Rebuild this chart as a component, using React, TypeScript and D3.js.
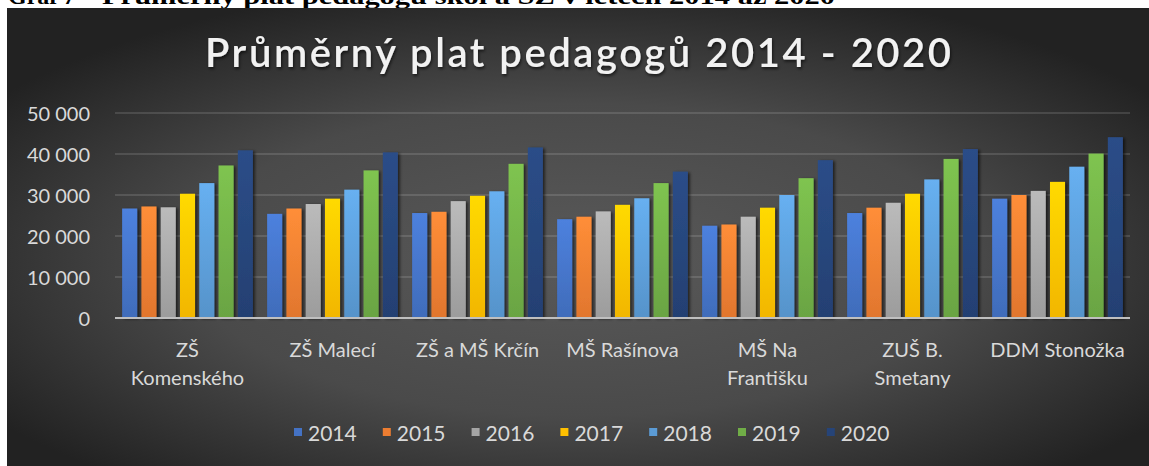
import React from "react";
import * as d3 from "d3";

const categories = [
  "ZŠ Komenského",
  "ZŠ Malecí",
  "ZŠ a MŠ Krčín",
  "MŠ Rašínova",
  "MŠ Na Františku",
  "ZUŠ B. Smetany",
  "DDM Stonožka",
];
// how Excel wrapped the axis labels
const categoryLines = [
  ["ZŠ", "Komenského"],
  ["ZŠ Malecí"],
  ["ZŠ a MŠ Krčín"],
  ["MŠ Rašínova"],
  ["MŠ Na", "Františku"],
  ["ZUŠ B.", "Smetany"],
  ["DDM Stonožka"],
];

const years = ["2014", "2015", "2016", "2017", "2018", "2019", "2020"];
const v2014 = [26700, 25400, 25600, 24100, 22500, 25600, 29100];
const v2015 = [27200, 26700, 25900, 24700, 22800, 26900, 30000];
const v2016 = [27000, 27800, 28500, 26000, 24700, 28100, 31000];
const v2017 = [30300, 29100, 29800, 27600, 26900, 30300, 33200];
const v2018 = [32900, 31300, 30900, 29200, 30000, 33800, 36900];
const v2019 = [37200, 36000, 37600, 32900, 34100, 38800, 40100];
const v2020 = [40900, 40400, 41600, 35700, 38500, 41200, 44100];
const seriesValues = [v2014, v2015, v2016, v2017, v2018, v2019, v2020];
const colors = ["#4472C4", "#ED7D31", "#A5A5A5", "#FFC000", "#5B9BD5", "#70AD47", "#264478"];

const yTicks = [0, 10000, 20000, 30000, 40000, 50000];

const caption = "Graf 7 – Průměrný plat pedagogů škol a ŠZ v letech 2014 až 2020";
const title = "Průměrný plat pedagogů 2014 - 2020";

const W = 1149;
const H = 466;
const font = "Lato, 'Open Sans', sans-serif";

const czFormat = d3.formatLocale({
  decimal: ",",
  thousands: "\u00a0",
  grouping: [3],
  currency: ["", " Kč"],
}).format(",d");

export default function App() {
  const x0 = d3.scaleBand().domain(categories).range([115, 1130]).padding(0);
  const x1 = d3
    .scaleBand()
    .domain(years)
    .range([0, x0.bandwidth()])
    .paddingInner(0.22)
    .paddingOuter(0.37);
  const y = d3.scaleLinear().domain([0, 50000]).range([318, 113]);

  const legend = d3.scaleBand().domain(years).range([294, 294 + 7 * 88.8]);

  const [capHead, ...capRest] = caption.split(" – ");

  return (
    <svg
      width={W}
      height={H}
      style={{ position: "absolute", left: 0, top: 0, background: "#fff" }}
    >
      <defs>
        <radialGradient id="bg" cx="50%" cy="55%" r="62%">
          <stop offset="0%" stopColor="#595959" />
          <stop offset="55%" stopColor="#4a4a4a" />
          <stop offset="100%" stopColor="#222222" />
        </radialGradient>
        {colors.map((c, i) => (
          <linearGradient key={i} id={`bar${i}`} x1="0" y1="0" x2="0" y2="1">
            <stop offset="0%" stopColor={d3.color(c)!.brighter(0.35).formatHex()} />
            <stop offset="100%" stopColor={d3.color(c)!.darker(0.15).formatHex()} />
          </linearGradient>
        ))}
        <filter id="shadow" x="-30%" y="-10%" width="160%" height="120%">
          <feDropShadow dx="2" dy="1" stdDeviation="1.5" floodColor="#000" floodOpacity="0.6" />
        </filter>
        <filter id="tshadow" x="-5%" y="-30%" width="110%" height="160%">
          <feDropShadow dx="1" dy="2" stdDeviation="1.5" floodColor="#000" floodOpacity="0.6" />
        </filter>
      </defs>

      {/* document caption, mostly hidden behind the chart */}
      <text
        x={8}
        y={4}
        fontFamily="'Liberation Serif', serif"
        fontWeight="bold"
        fontSize={24}
        fill="#000"
      >
        {capHead + " –"}
      </text>
      <text
        x={102}
        y={4}
        fontFamily="'Liberation Serif', serif"
        fontWeight="bold"
        fontSize={24}
        fill="#000"
        textLength={733}
        lengthAdjust="spacingAndGlyphs"
      >
        {capRest.join(" – ")}
      </text>

      <rect x={7} y={8} width={W - 7} height={H - 8} fill="url(#bg)" />

      <text
        x={578}
        y={67}
        textAnchor="middle"
        fontFamily={font}
        fontSize={40}
        fontWeight={600}
        fill="#f2f2f2"
        textLength={746}
        lengthAdjust="spacing"
        filter="url(#tshadow)"
      >
        {title}
      </text>

      {/* grid + y ticks */}
      {yTicks.map((t) => (
        <g key={t}>
          {t > 0 && (
            <line
              x1={115}
              x2={1130}
              y1={y(t)}
              y2={y(t)}
              stroke="#ffffff"
              strokeOpacity={0.17}
              strokeWidth={1.5}
            />
          )}
          <text
            x={90}
            y={y(t)}
            textAnchor="end"
            dominantBaseline="central"
            fontFamily={font}
            fontSize={20}
            fill="#d9d9d9"
          >
            {czFormat(t)}
          </text>
        </g>
      ))}

      {/* bars */}
      {categories.map((cat, ci) => (
        <g key={cat} transform={`translate(${x0(cat)},0)`}>
          {years.map((yr, si) => {
            const v = seriesValues[si][ci];
            return (
              <rect
                key={yr}
                x={x1(yr)}
                y={y(v)}
                width={x1.bandwidth()}
                height={y(0) - y(v)}
                fill={`url(#bar${si})`}
                filter="url(#shadow)"
              />
            );
          })}
        </g>
      ))}

      <line x1={115} x2={1130} y1={y(0)} y2={y(0)} stroke="#bfbfbf" strokeWidth={2} />

      {/* category labels */}
      {categories.map((cat, ci) => (
        <text
          key={cat}
          x={x0(cat)! + x0.bandwidth() / 2}
          y={357}
          textAnchor="middle"
          fontFamily={font}
          fontSize={20}
          fill="#d9d9d9"
        >
          {categoryLines[ci].map((line, li) => (
            <tspan key={li} x={x0(cat)! + x0.bandwidth() / 2} dy={li === 0 ? 0 : 28}>
              {line}
            </tspan>
          ))}
        </text>
      ))}

      {/* legend */}
      {years.map((yr, si) => (
        <g key={yr} transform={`translate(${legend(yr)},432)`}>
          <rect x={0} y={-4} width={8} height={8} fill={colors[si]} />
          <text
            x={14}
            y={0}
            dominantBaseline="central"
            fontFamily={font}
            fontSize={21}
            fill="#d9d9d9"
          >
            {yr}
          </text>
        </g>
      ))}
    </svg>
  );
}
